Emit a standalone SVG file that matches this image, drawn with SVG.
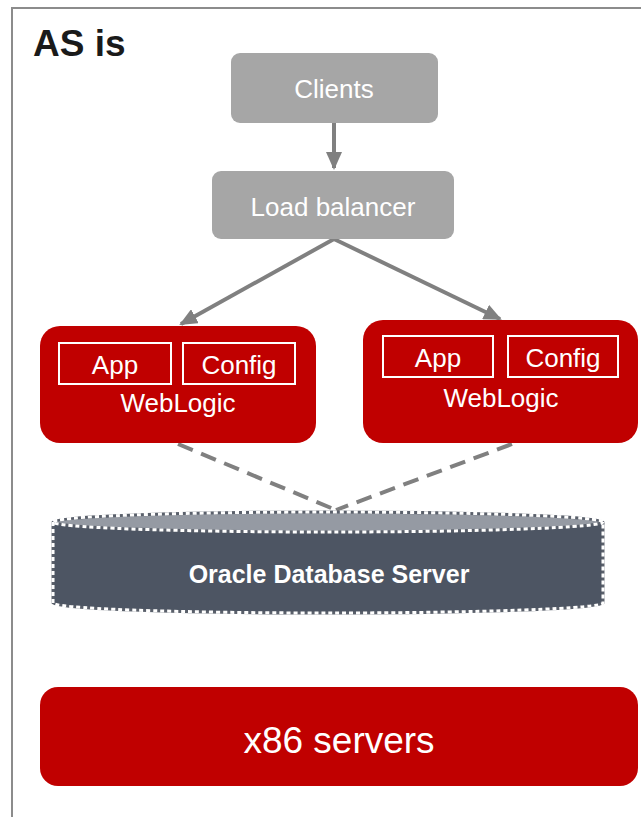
<svg xmlns="http://www.w3.org/2000/svg" width="641" height="817" viewBox="0 0 641 817">
<style>
.t{font-family:"Liberation Sans",Arial,sans-serif;fill:#fff;text-anchor:middle}
.gray{fill:#a6a6a6}
.red{fill:#c00000}
.inner{fill:none;stroke:#fff;stroke-width:2}
.conn{stroke:#808080;stroke-width:4;fill:none}
.dash{stroke:#808080;stroke-width:4;fill:none;stroke-dasharray:16,9}
</style>
<defs>
<marker id="ah" markerWidth="4.5" markerHeight="4" refX="4" refY="2" orient="auto" markerUnits="strokeWidth">
<path d="M0,0 L4.5,2 L0,4 Z" fill="#808080"/>
</marker>
</defs>
<g id="frame">
<path d="M12,817 L12,8 L641,8" fill="none" stroke="#8c8c8c" stroke-width="2"/>
<text x="33" y="56" font-family="Liberation Sans,Arial,sans-serif" font-weight="bold" font-size="37" fill="#1a1a1a">AS is</text>
</g>
<g id="connectors">
<line class="conn" x1="334" y1="123" x2="334" y2="168" marker-end="url(#ah)"/>
<line class="conn" x1="334" y1="239" x2="181" y2="324" marker-end="url(#ah)"/>
<line class="conn" x1="334" y1="239" x2="500" y2="319" marker-end="url(#ah)"/>
<line class="dash" x1="178" y1="444" x2="336" y2="510"/>
<line class="dash" x1="512" y1="444" x2="336" y2="510"/>
</g>
<g id="clients">
<rect class="gray" x="231" y="53" width="207" height="70" rx="9"/>
<text class="t" x="334" y="98" font-size="26">Clients</text>
</g>
<g id="loadbalancer">
<rect class="gray" x="212" y="171" width="242" height="68" rx="9"/>
<text class="t" x="333" y="216" font-size="26">Load balancer</text>
</g>
<g id="weblogic1">
<rect class="red" x="40" y="326" width="276" height="117" rx="20"/>
<rect class="inner" x="59" y="343" width="112" height="41"/>
<rect class="inner" x="183" y="343" width="112" height="41"/>
<text class="t" x="115" y="374" font-size="26">App</text>
<text class="t" x="239" y="374" font-size="26">Config</text>
<text class="t" x="178" y="412" font-size="26">WebLogic</text>
</g>
<g id="weblogic2">
<rect class="red" x="363" y="320" width="275" height="123" rx="20"/>
<rect class="inner" x="383" y="336" width="110" height="41"/>
<rect class="inner" x="508" y="336" width="110" height="41"/>
<text class="t" x="438" y="367" font-size="26">App</text>
<text class="t" x="563" y="367" font-size="26">Config</text>
<text class="t" x="501" y="407" font-size="26">WebLogic</text>
</g>
<g id="database">
<path d="M53,522 L53,603 A275,10 0 0 0 603,603 L603,522 Z" fill="#4d5563"/>
<ellipse cx="328" cy="522" rx="275" ry="10" fill="#959aa3"/>
<path d="M53,522 L53,603 A275,10 0 0 0 603,603 L603,522 A275,10 0 0 0 53,522 A275,10 0 0 0 603,522" fill="none" stroke="#5a606b" stroke-width="3"/>
<path d="M53,522 L53,603 A275,10 0 0 0 603,603 L603,522 A275,10 0 0 0 53,522 A275,10 0 0 0 603,522" fill="none" stroke="#fff" stroke-width="3" stroke-dasharray="4,3"/>
<text class="t" x="329" y="583" font-size="25" font-weight="bold">Oracle Database Server</text>
</g>
<g id="x86">
<rect class="red" x="40" y="687" width="598" height="99" rx="18"/>
<text class="t" x="339" y="753" font-size="37">x86 servers</text>
</g>
</svg>
